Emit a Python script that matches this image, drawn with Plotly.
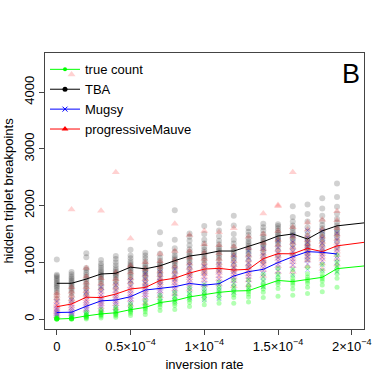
import plotly.graph_objects as go

# inversion rate columns (x values)
rates = [i * 1e-5 for i in range(20)]
line_rates = rates + [2.1e-4]

# mean lines
tba_mean = [630, 630, 705, 794, 806, 915, 885, 938, 1029, 1111, 1146, 1199, 1199, 1276, 1364, 1464, 1500, 1411, 1555, 1643, 1700]
mauve_mean = [217, 265, 385, 378, 440, 530, 556, 680, 720, 810, 880, 894, 864, 876, 1064, 1152, 1150, 1246, 1188, 1290, 1358]
mugsy_mean = [115, 120, 225, 320, 335, 394, 511, 540, 570, 627, 598, 623, 758, 835, 876, 995, 1099, 1188, 1176, 1146]
true_mean = [0, 10, 55, 90, 110, 165, 205, 290, 325, 390, 430, 470, 494, 500, 590, 680, 660, 695, 735, 888, 940]

# replicate points per column
tba_pts = [
    [1050, 780, 760, 730, 700, 670, 640, 610, 580, 550, 510, 470, 420, 350],
    [830, 790, 750, 720, 690, 660, 630, 600, 570, 540, 500, 460, 400, 330],
    [1160, 1090, 900, 870, 820, 780, 740, 700, 660, 620, 580, 540, 480, 420],
    [1040, 980, 940, 900, 860, 830, 800, 770, 740, 710, 670, 630, 580, 520],
    [1110, 1060, 1000, 950, 900, 860, 830, 800, 770, 740, 700, 660, 610, 540],
    [1220, 1120, 1070, 1020, 980, 950, 920, 890, 860, 820, 780, 740, 690, 620],
    [1170, 1120, 1070, 1020, 970, 930, 900, 870, 840, 810, 770, 730, 680, 600],
    [1530, 1320, 1150, 1080, 1030, 990, 960, 930, 900, 860, 820, 780, 720, 650],
    [1920, 1400, 1250, 1180, 1120, 1080, 1050, 1020, 990, 950, 910, 860, 800, 720],
    [1510, 1450, 1380, 1300, 1230, 1180, 1140, 1110, 1080, 1040, 1000, 950, 880, 790],
    [1640, 1500, 1400, 1330, 1270, 1220, 1180, 1150, 1110, 1070, 1030, 980, 910, 820],
    [1690, 1560, 1460, 1380, 1320, 1270, 1230, 1200, 1160, 1120, 1080, 1030, 960, 860],
    [1820, 1650, 1500, 1400, 1330, 1270, 1230, 1190, 1150, 1110, 1070, 1020, 950, 860],
    [1600, 1540, 1480, 1420, 1370, 1330, 1290, 1260, 1230, 1190, 1150, 1100, 1030, 940],
    [1680, 1620, 1560, 1500, 1450, 1410, 1370, 1340, 1310, 1270, 1230, 1180, 1110, 1010],
    [1670, 1640, 1600, 1560, 1520, 1490, 1460, 1430, 1400, 1370, 1330, 1280, 1210, 1110],
    [1990, 1800, 1720, 1650, 1600, 1550, 1510, 1480, 1450, 1410, 1370, 1320, 1250, 1140],
    [2020, 1850, 1720, 1620, 1540, 1470, 1420, 1380, 1340, 1300, 1260, 1210, 1140, 1050],
    [2130, 1950, 1820, 1730, 1660, 1600, 1560, 1520, 1480, 1440, 1400, 1350, 1280, 1180],
    [2390, 2150, 1980, 1860, 1770, 1700, 1650, 1610, 1570, 1530, 1490, 1440, 1370, 1260],
]
mauve_pts = [
    [460, 410, 360, 310, 270, 240, 210, 180, 150, 120, 90, 50],
    [4310, 1930, 560, 480, 410, 350, 300, 260, 220, 180, 130, 80],
    [900, 750, 640, 560, 490, 430, 390, 350, 310, 270, 220, 160],
    [1910, 720, 620, 540, 480, 420, 380, 340, 300, 260, 210, 150],
    [2590, 820, 700, 620, 550, 490, 440, 400, 360, 310, 260, 190],
    [1420, 940, 820, 720, 650, 580, 530, 490, 440, 390, 330, 250],
    [1000, 880, 780, 700, 640, 590, 550, 510, 470, 420, 360, 280],
    [1150, 1020, 920, 840, 770, 710, 670, 630, 590, 540, 480, 400],
    [1680, 1200, 1030, 920, 830, 760, 710, 670, 630, 580, 520, 440],
    [1480, 1200, 1080, 980, 900, 840, 800, 760, 720, 670, 610, 520],
    [1550, 1320, 1170, 1060, 980, 920, 870, 830, 790, 740, 680, 590],
    [1530, 1300, 1160, 1060, 990, 930, 890, 850, 810, 760, 700, 610],
    [1600, 1280, 1120, 1020, 950, 900, 860, 820, 780, 730, 670, 580],
    [1450, 1250, 1120, 1030, 960, 910, 870, 830, 790, 740, 680, 590],
    [1860, 1500, 1340, 1230, 1150, 1090, 1050, 1010, 970, 920, 860, 760],
    [2010, 1990, 1550, 1400, 1300, 1220, 1160, 1110, 1060, 1000, 930, 830],
    [2590, 1620, 1450, 1340, 1260, 1190, 1140, 1100, 1050, 1000, 930, 830],
    [1700, 1580, 1470, 1390, 1320, 1270, 1230, 1190, 1150, 1100, 1030, 930],
    [1750, 1580, 1450, 1360, 1290, 1230, 1180, 1140, 1100, 1050, 980, 880],
    [1900, 1740, 1600, 1490, 1410, 1340, 1290, 1240, 1190, 1130, 1060, 960],
]
mugsy_pts = [
    [310, 240, 190, 160, 130, 110, 90, 70, 50, 30],
    [330, 260, 200, 160, 130, 110, 90, 70, 50, 30],
    [480, 400, 330, 280, 240, 210, 180, 150, 110, 70],
    [560, 480, 420, 370, 330, 300, 270, 230, 190, 130],
    [600, 510, 440, 390, 350, 310, 280, 240, 190, 130],
    [680, 580, 510, 450, 410, 370, 330, 290, 240, 170],
    [800, 700, 630, 570, 520, 480, 440, 400, 350, 280],
    [830, 730, 660, 600, 550, 510, 470, 430, 380, 310],
    [880, 780, 700, 640, 590, 540, 500, 450, 400, 320],
    [950, 850, 770, 700, 650, 600, 560, 510, 450, 370],
    [930, 820, 740, 680, 620, 580, 530, 480, 420, 340],
    [960, 850, 770, 700, 650, 600, 550, 500, 440, 360],
    [1110, 1000, 910, 840, 780, 730, 680, 630, 560, 470],
    [1200, 1080, 990, 920, 860, 800, 750, 700, 630, 540],
    [1250, 1130, 1040, 960, 900, 850, 800, 740, 670, 570],
    [1380, 1260, 1160, 1080, 1020, 960, 910, 850, 780, 680],
    [1480, 1360, 1260, 1180, 1120, 1060, 1010, 950, 880, 780],
    [1560, 1440, 1350, 1270, 1210, 1150, 1100, 1040, 970, 870],
    [1550, 1430, 1340, 1260, 1200, 1140, 1090, 1030, 960, 860],
    [1520, 1400, 1310, 1230, 1170, 1110, 1060, 1000, 930, 830],
]
true_pts = [
    [0, 0, 0, 0, 0, 10, 20, 30],
    [0, 0, 0, 10, 10, 20, 30, 50],
    [0, 20, 30, 40, 60, 70, 90, 120],
    [20, 50, 70, 80, 100, 110, 130, 170],
    [30, 60, 80, 100, 120, 140, 170, 210],
    [60, 100, 130, 150, 170, 190, 220, 270],
    [80, 130, 170, 190, 210, 240, 270, 330],
    [150, 210, 250, 280, 300, 320, 360, 420],
    [170, 240, 280, 310, 340, 360, 400, 470],
    [220, 290, 340, 370, 400, 430, 470, 550],
    [250, 330, 380, 410, 440, 470, 520, 600],
    [280, 360, 410, 450, 480, 520, 570, 650],
    [280, 380, 430, 470, 500, 540, 600, 690],
    [300, 390, 440, 480, 510, 550, 600, 690],
    [380, 470, 530, 570, 600, 640, 700, 790],
    [400, 540, 610, 650, 690, 730, 790, 890],
    [420, 530, 600, 640, 670, 710, 770, 870],
    [450, 560, 630, 670, 700, 740, 800, 910],
    [480, 600, 670, 710, 740, 780, 850, 960],
    [560, 720, 800, 850, 890, 940, 1010, 1130],
]

x_tickvals = [0, 0.5e-4, 1e-4, 1.5e-4, 2e-4]
x_ticktext = ["0", "0.5×10<sup>−4</sup>", "1×10<sup>−4</sup>", "1.5×10<sup>−4</sup>", "2×10<sup>−4</sup>"]
y_tickvals = [0, 1000, 2000, 3000, 4000]


def flatten(pts):
    xs, ys = [], []
    for r, col in zip(rates, pts):
        for v in col:
            xs.append(r)
            ys.append(v)
    return xs, ys


fig = go.Figure()

# scatter clouds
bx, by = flatten(tba_pts)
fig.add_trace(go.Scatter(x=bx, y=by, mode="markers", showlegend=False,
                         marker=dict(symbol="circle", size=6, color="rgba(0,0,0,0.18)", line=dict(width=0))))
rx, ry = flatten(mauve_pts)
fig.add_trace(go.Scatter(x=rx, y=ry, mode="markers", showlegend=False,
                         marker=dict(symbol="triangle-up", size=7, color="rgba(255,0,0,0.18)", line=dict(width=0))))
ux, uy = flatten(mugsy_pts)
fig.add_trace(go.Scatter(x=ux, y=uy, mode="markers", showlegend=False,
                         marker=dict(symbol="x-thin", size=5, color="rgba(0,0,255,0.25)",
                                     line=dict(width=1, color="rgba(0,0,255,0.25)"))))
gx, gy = flatten(true_pts)
fig.add_trace(go.Scatter(x=gx, y=gy, mode="markers", showlegend=False,
                         marker=dict(symbol="circle", size=5, color="rgba(0,255,0,0.3)", line=dict(width=0))))

# mean lines (no markers on plot)
fig.add_trace(go.Scatter(x=line_rates, y=tba_mean, mode="lines", showlegend=False, line=dict(color="black", width=1)))
fig.add_trace(go.Scatter(x=line_rates, y=mauve_mean, mode="lines", showlegend=False, line=dict(color="red", width=1)))
fig.add_trace(go.Scatter(x=rates, y=mugsy_mean, mode="lines", showlegend=False, line=dict(color="blue", width=1)))
fig.add_trace(go.Scatter(x=line_rates, y=true_mean, mode="lines", showlegend=False, line=dict(color="#00ff00", width=1)))

# legend entries
fig.add_trace(go.Scatter(x=[None], y=[None], mode="lines+markers", name="true count",
                         line=dict(color="#00ff00", width=1), marker=dict(symbol="circle", size=4, color="#00ff00")))
fig.add_trace(go.Scatter(x=[None], y=[None], mode="lines+markers", name="TBA",
                         line=dict(color="black", width=1), marker=dict(symbol="circle", size=5, color="black")))
fig.add_trace(go.Scatter(x=[None], y=[None], mode="lines+markers", name="Mugsy",
                         line=dict(color="blue", width=1),
                         marker=dict(symbol="x-thin", size=5, color="blue", line=dict(width=1, color="blue"))))
fig.add_trace(go.Scatter(x=[None], y=[None], mode="lines+markers", name="progressiveMauve",
                         line=dict(color="red", width=1), marker=dict(symbol="triangle-up", size=6, color="red")))

fig.add_annotation(text="B", xref="paper", yref="paper", x=0.995, y=0.985, xanchor="right", yanchor="top",
                   showarrow=False, font=dict(size=27, color="black"))

fig.update_layout(
    width=374, height=374,
    margin=dict(l=45, r=10, t=53, b=45, autoexpand=False),
    paper_bgcolor="white", plot_bgcolor="white",
    font=dict(family="Liberation Sans, Arial, sans-serif", size=13, color="black"),
    legend=dict(x=0.0, y=0.995, xanchor="left", yanchor="top", bgcolor="rgba(0,0,0,0)",
                font=dict(size=13), tracegroupgap=0, itemsizing="trace"),
    xaxis=dict(range=[-0.08e-4, 2.083e-4], tickvals=x_tickvals, ticktext=x_ticktext, automargin=False,
               showgrid=False, zeroline=False, showline=True, mirror=True, linecolor="#444", linewidth=1,
               ticks="outside", ticklen=5, tickcolor="#444", tickfont=dict(size=13),
               title=dict(text="inversion rate", font=dict(size=13), standoff=7)),
    yaxis=dict(range=[-176, 4691], tickvals=y_tickvals, tickangle=-90, automargin=False,
               showgrid=False, zeroline=False, showline=True, mirror=True, linecolor="#444", linewidth=1,
               ticks="outside", ticklen=5, tickcolor="#444", tickfont=dict(size=13),
               title=dict(text="hidden triplet breakpoints", font=dict(size=13), standoff=5)),
)

fig.write_html("out.html", config={"displayModeBar": False},
               post_script="document.body.style.margin='0px';document.body.style.padding='0px';")
